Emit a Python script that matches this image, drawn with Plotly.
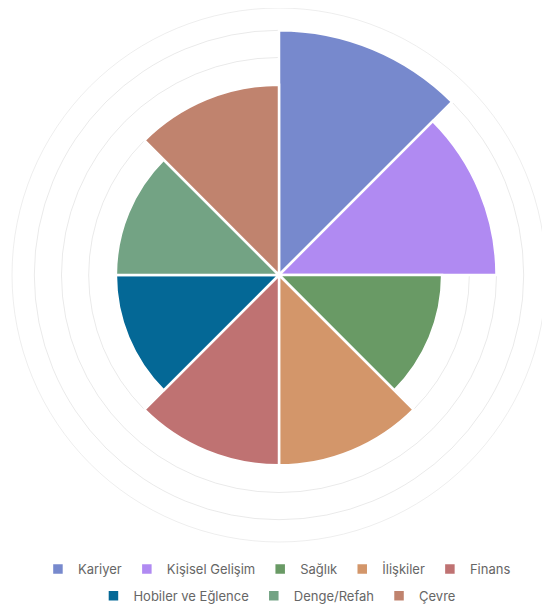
import plotly.graph_objects as go

categories = ["Kariyer", "Kişisel Gelişim", "Sağlık", "İlişkiler", "Finans",
              "Hobiler ve Eğlence", "Denge/Refah", "Çevre"]
values = [9, 8, 6, 7, 7, 6, 6, 7]
angles = [22.5, 67.5, 112.5, 157.5, 202.5, 247.5, 292.5, 337.5]
colors = ["#7789CD", "#B08AF2", "#699A65", "#D3966A", "#BF7272",
          "#046896", "#73A384", "#C0836E"]

fig = go.Figure()
for i, (cat, val, ang, col) in enumerate(zip(categories, values, angles, colors)):
    fig.add_trace(go.Barpolar(
        r=[val], theta=[ang], width=[45], name=cat,
        marker=dict(color=col, line=dict(color="white", width=2.5)),
        legend="legend" if i < 5 else "legend2",
    ))

grid = "rgba(0,0,0,0.085)"
fig.update_layout(
    width=550, height=610,
    margin=dict(l=0, r=0, t=0, b=0, autoexpand=False),
    paper_bgcolor="white",
    font=dict(family="Inter, sans-serif", size=13, color="#666666"),
    polar=dict(
        bgcolor="white",
        domain=dict(x=[4 / 550, 538 / 550], y=[76 / 610, 1]),
        radialaxis=dict(range=[0, 9.82], dtick=1, showticklabels=False, ticks="",
                        showline=False, gridcolor=grid, gridwidth=1,
                        layer="above traces"),
        angularaxis=dict(direction="clockwise", rotation=90, showgrid=False,
                         showticklabels=False, ticks="", showline=True,
                         linecolor="rgba(0,0,0,0.07)", linewidth=1),
    ),
    legend=dict(orientation="h", x=0.489, xanchor="center", xref="container",
                y=0.105, yanchor="top", yref="container",
                font=dict(size=13, color="#666666")),
    legend2=dict(orientation="h", x=0.489, xanchor="center", xref="container",
                 y=0.061, yanchor="top", yref="container",
                 font=dict(size=13, color="#666666")),
    showlegend=True,
)

fig.write_html("out.html")
